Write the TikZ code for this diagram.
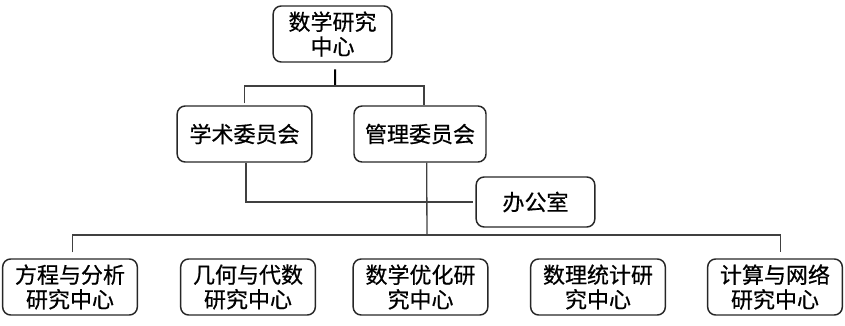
\documentclass[tikz,border=0pt]{standalone}
\usepackage{fontspec}
\newfontfamily\cjk[FakeBold=0.6]{Noto Sans CJK SC}
\usepackage{tikz}
\usetikzlibrary{positioning,calc}

\begin{document}
\begin{tikzpicture}[
  x=0.75pt, y=-0.75pt,
  unit/.style={draw=black!85, line width=1.1pt, rectangle, rounded corners=6pt, minimum width=101pt, minimum height=42pt, align=center, inner sep=1pt, font=\cjk\fontsize{16.5}{18.5}\selectfont},
  link/.style={line width=1pt, draw=black!75},
]
\useasboundingbox (0,0) rectangle (845,325);

\node[unit, minimum width=89pt] (center) at (332.5,34) {数学研究\\中心};

\node[unit] (acad) at (244.5,134) {学术委员会};
\node[unit, minimum width=99pt] (admin) at (420,134) {管理委员会};
\node[unit, minimum width=89pt, minimum height=37.5pt] (office) at (535.5,202) {办公室};

\node[unit] (eq) at (70,287) {方程与分析\\研究中心};
\node[unit] (geo) at (248,287) {几何与代数\\研究中心};
\node[unit] (opt) at (420.5,287) {数学优化研\\究中心};
\node[unit] (stat) at (598,287) {数理统计研\\究中心};
\node[unit] (comp) at (775,287) {计算与网络\\研究中心};

\coordinate (top bus) at (335,86);
\coordinate (low bus) at (427,235);

\draw[link, line width=1.5pt, draw=black] ([xshift=2pt, yshift=-5pt]center.south) -- (top bus);
\draw[link, shorten <=1.5pt] (acad.north) |- (top bus) -| ([xshift=3pt]admin.north);
\draw[link, shorten >=2pt] ([xshift=1pt]acad.south) |- (office.west);
\draw[link] ([xshift=5pt]admin.south) -- (low bus);
\draw[link, shorten <=4.5pt, shorten >=4.5pt] ([xshift=2pt]eq.north) |- (low bus) -| ([xshift=4pt]comp.north);

\end{tikzpicture}
\end{document}
